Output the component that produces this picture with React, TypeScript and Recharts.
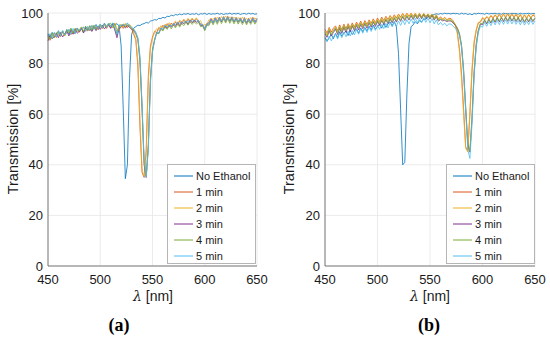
import React from "react";
import { LineChart, Line, XAxis, YAxis, CartesianGrid } from "recharts";

// wavelength grid (nm)
const WAVELENGTH = [
  450, 452, 454, 456, 458, 460, 462, 464, 466, 468,
  470, 472, 474, 476, 478, 480, 482, 484, 486, 488,
  490, 492, 494, 496, 498, 500, 502, 504, 506, 508,
  510, 512, 514, 516, 518, 520, 522, 524, 526, 528,
  530, 532, 534, 536, 538, 540, 542, 544, 546, 548,
  550, 552, 554, 556, 558, 560, 562, 564, 566, 568,
  570, 572, 574, 576, 578, 580, 582, 584, 586, 588,
  590, 592, 594, 596, 598, 600, 602, 604, 606, 608,
  610, 612, 614, 616, 618, 620, 622, 624, 626, 628,
  630, 632, 634, 636, 638, 640, 642, 644, 646, 648,
  650,
];

const SERIES_NAMES = ["No Ethanol", "1 min", "2 min", "3 min", "4 min", "5 min"];
const COLORS = ["#0072BD", "#D95319", "#EDB120", "#7E2F8E", "#77AC30", "#4DBEEE"];
const X_TICKS = [450, 500, 550, 600, 650];
const Y_TICKS = [0, 20, 40, 60, 80, 100];

// ---- panel (a) ----
const A_NO_ETHANOL = [
  91.8, 90.1, 92.3, 90.6, 91.2, 93.0, 90.9, 92.7, 91.4, 93.5,
  91.6, 93.8, 92.4, 91.9, 94.1, 92.6, 93.9, 92.2, 94.6, 93.4,
  94.9, 93.0, 94.2, 95.4, 93.6, 95.1, 94.0, 96.0, 94.6, 95.5,
  95.0, 95.9, 95.2, 95.8, 94.8, 87, 62, 34.5, 40, 74,
  91.5, 94.0, 94.6, 95.2, 95.0, 95.6, 95.8, 96.3, 96.0, 96.8,
  97.0, 97.4, 97.2, 97.9, 97.8, 98.3, 98.0, 98.7, 98.6, 99.1,
  98.9, 99.4, 99.2, 99.6, 99.3, 99.7, 99.5, 99.8, 99.4, 99.7,
  99.5, 99.8, 99.3, 99.7, 99.6, 99.9, 99.4, 99.8, 99.5, 99.7,
  99.6, 99.9, 99.5, 99.8, 99.4, 99.7, 99.6, 99.9, 99.5, 99.8,
  99.6, 99.9, 99.4, 99.7, 99.8, 99.5, 99.9, 99.6, 99.8, 99.5,
  99.7,
];
const A_1MIN = [
  91.0, 89.2, 90.8, 92.1, 90.3, 91.9, 90.7, 92.8, 91.1, 92.3,
  93.4, 91.5, 93.0, 92.0, 94.0, 92.4, 93.6, 94.4, 92.8, 94.2,
  93.0, 95.0, 93.7, 94.6, 93.4, 95.3, 94.0, 95.6, 93.9, 95.2,
  94.1, 95.8, 93.6, 91.2, 94.6, 95.4, 93.9, 95.7, 94.2, 95.3,
  94.0, 91.5, 89.5, 79, 55, 37, 35, 46, 75, 87,
  90.5, 92.8, 92.2, 94.3, 93.5, 95.2, 94.0, 95.8, 94.6, 96.0,
  95.0, 96.4, 95.2, 96.9, 95.6, 97.4, 96.0, 97.6, 96.2, 97.8,
  96.3, 97.9, 96.5, 95.6, 95.4, 93.8, 95.9, 96.2, 97.9, 96.3,
  98.2, 96.7, 98.4, 96.9, 98.6, 97.0, 98.7, 96.8, 98.5, 96.6,
  98.3, 96.5, 98.1, 96.4, 98.2, 96.2, 97.9, 96.5, 98.3, 96.6,
  97.9,
];
const A_2MIN = [
  90.9, 89.6, 91.8, 90.2, 92.4, 90.8, 91.7, 92.9, 91.0, 92.5,
  92.2, 93.5, 91.7, 93.8, 92.6, 93.1, 94.2, 92.5, 93.9, 93.2,
  94.7, 93.1, 95.1, 93.4, 94.5, 95.5, 93.8, 95.0, 94.9, 96.0,
  95.0, 94.2, 96.1, 93.6, 92.8, 95.6, 94.2, 95.9, 94.5, 95.5,
  94.3, 92.2, 90.0, 81, 58, 38, 35.5, 44, 73, 86,
  90.0, 92.4, 93.8, 93.1, 95.0, 93.9, 95.6, 94.8, 96.2, 95.1,
  96.0, 96.8, 95.4, 97.1, 96.5, 97.5, 96.2, 97.9, 96.6, 98.0,
  96.7, 98.1, 96.4, 97.0, 95.0, 95.5, 95.3, 97.4, 96.8, 97.8,
  97.1, 98.3, 97.2, 98.6, 97.4, 98.8, 97.6, 98.5, 97.2, 98.4,
  97.3, 98.2, 96.9, 98.4, 97.0, 97.9, 96.7, 98.2, 97.0, 98.1,
  97.2,
];
const A_3MIN = [
  89.0, 91.3, 89.8, 90.6, 92.0, 90.2, 92.3, 90.5, 91.8, 92.9,
  90.9, 93.2, 91.6, 93.6, 92.0, 92.8, 94.0, 92.1, 94.2, 93.0,
  93.8, 92.7, 94.6, 93.0, 94.9, 93.5, 95.2, 93.7, 94.8, 95.5,
  93.9, 95.8, 93.2, 90.2, 94.0, 94.3, 95.4, 94.0, 95.1, 94.4,
  93.5, 93.0, 91.8, 89.5, 81, 62, 40, 35, 48, 74,
  85.5, 89.5, 92.3, 91.9, 94.0, 93.2, 95.0, 93.9, 95.4, 94.4,
  95.8, 94.7, 96.3, 95.0, 96.5, 95.7, 96.9, 95.5, 97.3, 96.1,
  97.2, 96.3, 97.1, 95.0, 95.2, 93.4, 95.6, 95.6, 97.5, 95.9,
  97.9, 96.2, 98.1, 96.5, 98.3, 96.6, 98.4, 96.6, 98.1, 96.4,
  97.9, 96.3, 97.8, 96.1, 97.7, 95.9, 97.6, 96.1, 97.8, 96.2,
  97.6,
];
const A_4MIN = [
  91.4, 89.6, 92.2, 90.3, 91.5, 92.7, 90.9, 92.9, 91.2, 93.3,
  92.4, 93.9, 92.0, 94.0, 92.9, 93.4, 94.5, 92.7, 94.8, 93.0,
  95.0, 93.3, 95.2, 93.6, 94.4, 95.6, 94.0, 95.8, 94.3, 95.6,
  96.0, 94.2, 95.8, 92.0, 95.1, 94.8, 95.6, 94.4, 95.9, 94.6,
  94.0, 93.4, 92.2, 90.0, 82, 63, 41, 35.5, 47, 73,
  85.0, 89.0, 92.0, 91.8, 93.6, 92.9, 94.6, 93.5, 94.9, 93.7,
  95.3, 94.1, 95.7, 94.4, 95.8, 95.0, 96.3, 95.2, 96.6, 95.5,
  96.5, 95.7, 96.3, 94.6, 94.8, 93.0, 95.1, 95.0, 96.8, 95.3,
  97.1, 95.5, 97.4, 95.8, 97.6, 96.0, 97.7, 95.9, 97.5, 95.7,
  97.3, 95.6, 97.2, 95.4, 97.0, 95.3, 96.9, 95.5, 97.1, 95.6,
  96.9,
];
const A_5MIN = [
  90.5, 91.9, 89.9, 92.4, 90.5, 92.7, 91.0, 93.1, 91.3, 92.4,
  93.6, 91.6, 93.9, 92.0, 94.0, 93.1, 93.5, 94.5, 92.8, 94.8,
  93.2, 95.1, 93.5, 95.4, 93.8, 95.6, 94.1, 95.8, 94.3, 96.0,
  94.5, 96.1, 94.0, 91.5, 95.4, 95.0, 95.5, 95.1, 96.1, 94.8,
  94.4, 93.8, 92.5, 90.2, 83, 64, 42, 35, 46, 72,
  84.5, 89.2, 92.4, 92.2, 94.0, 93.6, 95.1, 94.5, 95.3, 94.9,
  95.8, 95.4, 96.4, 95.7, 96.4, 96.1, 96.8, 96.4, 97.0, 96.6,
  97.3, 96.7, 97.1, 95.5, 95.5, 93.8, 95.6, 95.9, 97.5, 96.2,
  97.9, 96.5, 98.2, 96.8, 98.4, 97.0, 98.5, 96.9, 98.3, 96.7,
  98.1, 96.6, 98.0, 96.4, 97.8, 96.3, 97.7, 96.4, 97.9, 96.5,
  97.8,
];

// ---- panel (b) ----
const B_NO_ETHANOL = [
  90.4, 88.9, 90.2, 91.6, 89.8, 91.9, 90.3, 92.6, 90.8, 92.1,
  92.9, 91.1, 93.2, 91.5, 92.8, 93.8, 92.0, 94.1, 92.6, 94.3,
  92.9, 94.8, 93.3, 95.2, 93.6, 94.6, 95.6, 94.0, 95.9, 94.3,
  95.8, 96.5, 95.0, 96.6, 94.5, 84, 62, 40, 41, 68,
  88, 94.6, 95.3, 96.6, 95.7, 97.0, 96.4, 97.6, 97.5, 98.5,
  98.6, 99.1, 99.4, 99.7, 99.5, 99.8, 99.6, 99.9, 99.7, 99.8,
  99.6, 99.9, 99.7, 99.8, 99.5, 99.9, 99.6, 99.8, 99.4, 99.7,
  99.3, 99.8, 99.6, 99.9, 99.7, 99.8, 99.5, 99.9, 99.6, 99.8,
  99.7, 99.9, 99.6, 99.8, 99.5, 99.9, 99.7, 99.8, 99.6, 99.9,
  99.7, 99.8, 99.5, 99.9, 99.6, 99.8, 99.7, 99.9, 99.6, 99.8,
  99.7,
];
const B_1MIN = [
  93.5, 92.1, 94.3, 92.5, 94.0, 94.9, 93.0, 95.3, 93.4, 95.6,
  93.8, 95.8, 94.2, 96.1, 94.5, 96.4, 95.0, 96.8, 95.1, 97.0,
  95.5, 97.3, 96.0, 97.7, 96.2, 98.0, 96.6, 98.4, 97.0, 98.7,
  97.4, 99.0, 97.7, 99.3, 98.0, 99.6, 98.4, 99.8, 98.6, 99.9,
  98.8, 99.9, 98.7, 99.8, 98.6, 99.9, 98.4, 99.8, 98.7, 99.6,
  98.5, 99.6, 98.0, 99.3, 97.6, 98.5, 97.5, 98.3, 97.3, 97.9,
  97.8, 96.9, 95.5, 92.5, 86, 76, 62, 47, 45.5, 60,
  77, 88, 93, 96.0, 96.4, 98.0, 97.3, 98.4, 97.6, 98.9,
  97.9, 99.2, 98.1, 99.4, 98.2, 99.5, 98.3, 99.6, 98.2, 99.5,
  98.3, 99.4, 98.0, 99.3, 97.8, 99.2, 97.9, 99.3, 98.0, 99.2,
  98.6,
];
const B_2MIN = [
  92.7, 91.5, 93.8, 91.9, 93.2, 94.5, 92.4, 94.8, 92.9, 95.1,
  93.2, 95.4, 93.6, 95.7, 94.0, 96.0, 94.3, 96.3, 94.6, 96.6,
  95.0, 96.9, 95.4, 97.3, 95.7, 97.6, 96.1, 98.0, 96.4, 98.3,
  96.8, 98.7, 97.2, 99.0, 97.5, 99.4, 97.9, 99.7, 98.2, 99.8,
  98.4, 99.9, 98.3, 99.9, 98.4, 99.8, 98.2, 99.9, 98.4, 99.7,
  98.3, 99.6, 97.8, 99.2, 97.4, 98.4, 97.6, 98.0, 97.4, 97.6,
  97.5, 96.5, 95.0, 91.8, 85, 74, 60, 46.5, 45, 61,
  78, 89, 93.5, 96.3, 96.6, 98.2, 97.6, 98.7, 97.9, 99.1,
  98.2, 99.4, 98.4, 99.6, 98.5, 99.7, 98.6, 99.8, 98.5, 99.7,
  98.6, 99.6, 98.3, 99.5, 98.0, 99.4, 98.1, 99.5, 98.2, 99.4,
  98.8,
];
const B_3MIN = [
  91.7, 90.4, 92.9, 90.9, 92.3, 93.6, 91.5, 93.9, 91.9, 94.2,
  92.3, 94.5, 92.6, 94.8, 93.0, 95.1, 93.3, 95.4, 93.8, 95.7,
  94.0, 96.0, 94.4, 96.4, 94.7, 96.7, 95.1, 97.0, 95.5, 97.3,
  95.8, 97.6, 96.1, 97.9, 96.4, 98.2, 96.7, 98.5, 97.0, 98.7,
  97.2, 98.9, 97.4, 99.1, 97.6, 99.2, 97.7, 99.3, 97.8, 99.1,
  97.6, 99.0, 97.2, 98.5, 96.8, 97.4, 96.9, 97.1, 96.6, 96.9,
  96.8, 96.0, 95.2, 94.0, 91.8, 87, 77, 62, 48, 45,
  58, 76, 87, 93, 95.6, 95.4, 97.1, 95.7, 97.4, 96.0,
  97.7, 96.3, 98.0, 96.5, 98.1, 96.6, 98.2, 96.7, 98.3, 96.8,
  98.1, 96.6, 98.0, 96.4, 97.9, 96.3, 97.8, 96.5, 98.0, 96.6,
  97.9,
];
const B_4MIN = [
  92.3, 90.9, 93.4, 91.5, 92.9, 94.1, 92.0, 94.5, 92.5, 94.8,
  92.9, 95.1, 93.3, 95.3, 93.6, 95.6, 94.0, 95.9, 94.3, 96.2,
  94.6, 96.5, 94.9, 96.8, 95.3, 97.1, 95.6, 97.4, 95.9, 97.7,
  96.2, 98.0, 96.5, 98.3, 96.8, 98.6, 97.1, 98.9, 97.4, 99.1,
  97.5, 99.3, 97.8, 99.4, 97.9, 99.5, 98.0, 99.6, 98.1, 99.4,
  97.9, 99.3, 97.5, 98.8, 97.1, 97.7, 97.2, 97.4, 96.9, 97.2,
  97.1, 96.3, 95.5, 94.2, 92.0, 87.5, 78, 63, 48.5, 45.2,
  59, 77, 88, 93.2, 95.9, 95.8, 97.4, 96.0, 97.7, 96.3,
  98.0, 96.6, 98.3, 96.8, 98.4, 96.9, 98.5, 97.0, 98.6, 97.1,
  98.4, 96.9, 98.3, 96.7, 98.2, 96.6, 98.1, 96.8, 98.3, 96.9,
  98.2,
];
const B_5MIN = [
  89.9, 88.6, 90.9, 89.0, 90.5, 91.8, 89.7, 92.1, 90.2, 92.5,
  90.6, 92.8, 90.9, 93.1, 91.3, 93.4, 91.6, 93.8, 92.0, 94.1,
  92.3, 94.5, 92.7, 94.8, 93.1, 95.2, 93.5, 95.5, 93.8, 95.9,
  94.1, 96.2, 94.5, 96.5, 94.8, 96.8, 95.1, 97.1, 95.4, 97.4,
  95.7, 97.6, 95.9, 97.9, 96.1, 98.0, 96.2, 98.1, 96.3, 97.9,
  96.1, 97.8, 95.7, 97.3, 95.3, 96.3, 95.2, 96.0, 94.9, 95.7,
  95.6, 94.8, 94.0, 93.0, 91.0, 86.5, 76, 61, 46, 42.5,
  56, 75, 86.5, 92.2, 94.8, 94.4, 96.3, 94.7, 96.6, 95.0,
  96.9, 95.3, 97.1, 95.4, 97.2, 95.5, 97.3, 95.6, 97.4, 95.7,
  97.2, 95.5, 97.1, 95.3, 97.0, 95.2, 96.9, 95.4, 97.1, 95.5,
  96.9,
];

const PANEL_A = [A_NO_ETHANOL, A_1MIN, A_2MIN, A_3MIN, A_4MIN, A_5MIN];
const PANEL_B = [B_NO_ETHANOL, B_1MIN, B_2MIN, B_3MIN, B_4MIN, B_5MIN];

const FONT = "'Liberation Sans', Arial, Helvetica, sans-serif";
const AXIS_COLOR = "#5a5a5a";
const TEXT_COLOR = "#1a1a1a";

function buildRows(series: number[][]) {
  return WAVELENGTH.map((wl, i) => {
    const row: Record<string, number> = { wl };
    series.forEach((s, k) => {
      row["s" + k] = s[i];
    });
    return row;
  });
}

function Legend({ left, top }: { left: number; top: number }) {
  return (
    <div
      style={{
        position: "absolute",
        left,
        top,
        width: 89,
        height: 100,
        border: "1px solid #b5b5b5",
        background: "#fff",
        boxSizing: "border-box",
        fontFamily: FONT,
        fontSize: 11,
        color: TEXT_COLOR,
      }}
    >
      {SERIES_NAMES.map((name, k) => (
        <div
          key={name}
          style={{
            position: "absolute",
            left: 6,
            top: 3 + k * 16,
            height: 16,
            display: "flex",
            alignItems: "center",
            whiteSpace: "nowrap",
          }}
        >
          <svg width={20} height={4} style={{ marginRight: 2 }}>
            <line x1={0} y1={2} x2={19} y2={2} stroke={COLORS[k]} strokeWidth={1} />
          </svg>
          {name}
        </div>
      ))}
    </div>
  );
}

function Panel({
  series,
  left,
  yAxisWidth,
  rightMargin,
  tag,
  tagX,
  yLabelX,
  xLabelX,
  legendLeft,
}: {
  series: number[][];
  left: number;
  yAxisWidth: number;
  rightMargin: number;
  tag: string;
  tagX: number;
  yLabelX: number;
  xLabelX: number;
  legendLeft: number;
}) {
  const data = buildRows(series);
  const tick = { fontSize: 13, fill: TEXT_COLOR, fontFamily: FONT };
  return (
    <>
      <div style={{ position: "absolute", left, top: 0 }}>
        <LineChart
          width={275}
          height={300}
          data={data}
          margin={{ top: 13, right: rightMargin, bottom: 10, left: 0 }}
        >
          <CartesianGrid stroke="#e6e6e6" strokeWidth={0.8} />
          <XAxis
            dataKey="wl"
            type="number"
            domain={[450, 650]}
            ticks={X_TICKS}
            tick={tick}
            tickLine={false}
            tickSize={3}
            tickMargin={6}
            height={24}
            axisLine={{ stroke: AXIS_COLOR, strokeWidth: 0.8 }}
          />
          <XAxis
            xAxisId="top"
            orientation="top"
            dataKey="wl"
            type="number"
            domain={[450, 650]}
            ticks={X_TICKS}
            tick={false}
            tickLine={false}
            height={0}
            axisLine={{ stroke: AXIS_COLOR, strokeWidth: 0.8 }}
          />
          <YAxis
            type="number"
            domain={[0, 100]}
            ticks={Y_TICKS}
            tick={tick}
            tickLine={false}
            tickSize={3}
            tickMargin={2}
            width={yAxisWidth}
            axisLine={{ stroke: AXIS_COLOR, strokeWidth: 0.8 }}
          />
          <YAxis
            yAxisId="right"
            orientation="right"
            type="number"
            domain={[0, 100]}
            ticks={Y_TICKS}
            tick={false}
            tickLine={false}
            width={0}
            axisLine={{ stroke: AXIS_COLOR, strokeWidth: 0.8 }}
          />
          {series.map((_, k) => (
            <Line
              key={k}
              type="linear"
              dataKey={"s" + k}
              stroke={COLORS[k]}
              strokeWidth={0.8}
              dot={false}
              isAnimationActive={false}
            />
          ))}
        </LineChart>
      </div>
      <div
        style={{
          position: "absolute",
          left: left + yLabelX - 80,
          top: 139 - 8,
          width: 160,
          height: 16,
          lineHeight: "16px",
          textAlign: "center",
          transform: "rotate(-90deg)",
          fontFamily: FONT,
          fontSize: 14.5,
          color: TEXT_COLOR,
          whiteSpace: "nowrap",
        }}
      >
        Transmission [%]
      </div>
      <div
        style={{
          position: "absolute",
          left: left + xLabelX - 30,
          top: 290,
          width: 60,
          height: 12,
          lineHeight: "12px",
          textAlign: "center",
          fontFamily: FONT,
          fontSize: 14,
          color: TEXT_COLOR,
          whiteSpace: "nowrap",
        }}
      >
        <span style={{ fontFamily: "'DejaVu Serif', 'Liberation Serif', serif", fontStyle: "italic" }}>λ</span> [nm]
      </div>
      <div
        style={{
          position: "absolute",
          left: left + tagX - 20,
          top: 325 - 12,
          width: 40,
          height: 24,
          lineHeight: "24px",
          textAlign: "center",
          fontFamily: "'Liberation Serif', 'Times New Roman', serif",
          fontWeight: "bold",
          fontSize: 18,
          color: "#000",
        }}
      >
        {tag}
      </div>
      <Legend left={legendLeft} top={164} />
    </>
  );
}

export default function App() {
  return (
    <div
      style={{
        position: "absolute",
        left: 0,
        top: 0,
        width: 550,
        height: 340,
        background: "#fff",
        overflow: "hidden",
      }}
    >
      <Panel
        series={PANEL_A}
        left={0}
        yAxisWidth={48}
        rightMargin={18}
        tag="(a)"
        tagX={119}
        yLabelX={12.5}
        xLabelX={153}
        legendLeft={167}
      />
      <Panel
        series={PANEL_B}
        left={275}
        yAxisWidth={50}
        rightMargin={15}
        tag="(b)"
        tagX={154}
        yLabelX={14}
        xLabelX={155}
        legendLeft={446}
      />
    </div>
  );
}
